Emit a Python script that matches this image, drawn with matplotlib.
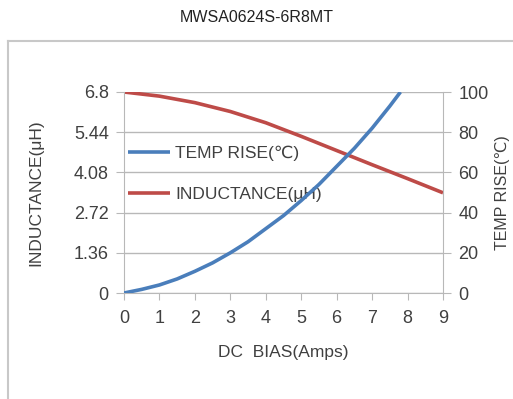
import matplotlib.pyplot as plt

plt.rcParams['font.family'] = ['Liberation Sans', 'DejaVu Sans']

# values
bias_temp = [0, 0.5, 1, 1.5, 2, 2.5, 3, 3.5, 4, 4.5, 5, 5.5, 6, 6.5, 7, 7.5, 7.8]
temp_rise = [0, 1.8, 4, 7, 10.8, 15, 20, 25.5, 32, 38.5, 46, 54, 63, 72, 82, 93, 100]
bias_ind = [0, 1, 2, 3, 4, 5, 6, 7, 8, 9]
inductance = [6.8, 6.66, 6.44, 6.14, 5.76, 5.3, 4.82, 4.34, 3.87, 3.39]
left_ticks = [0, 1.36, 2.72, 4.08, 5.44, 6.8]
right_ticks = [0, 20, 40, 60, 80, 100]
x_ticks = list(range(10))

blue = '#4a7ebb'
red = '#be4b48'
grid_col = '#b8b8b8'
txt_col = '#404040'

fig = plt.figure(figsize=(5.13, 3.99), dpi=100)

# outer frame (chart border)
fig.add_artist(plt.Line2D([8/513, 8/513], [0, 1 - 41/399], transform=fig.transFigure,
                          color='#c8c8c8', lw=1.5))
fig.add_artist(plt.Line2D([8/513, 1], [1 - 41/399, 1 - 41/399], transform=fig.transFigure,
                          color='#c8c8c8', lw=1.5))

fig.text(0.5, 1 - 18/399, 'MWSA0624S-6R8MT', ha='center', va='center', fontsize=11.5, color='#222222')

ax = fig.add_axes([124/513, 1 - 293/399, 319/513, 201/399])
ax2 = ax.twinx()

l1, = ax2.plot(bias_temp, temp_rise, color=blue, lw=2.6, solid_capstyle='butt')
l2, = ax.plot(bias_ind, inductance, color=red, lw=2.6, solid_capstyle='butt')

ax.set_xlim(0, 9)
ax.set_ylim(0, 6.8)
ax2.set_ylim(0, 100)
ax.set_xticks(x_ticks)
ax.set_yticks(left_ticks)
ax.set_yticklabels(['0', '1.36', '2.72', '4.08', '5.44', '6.8'])
ax2.set_yticks(right_ticks)

ax.grid(axis='y', color=grid_col, lw=1)
for a in (ax, ax2):
    for s in a.spines.values():
        s.set_visible(False)
ax.spines['left'].set_visible(True)
ax.spines['left'].set_color(grid_col)
ax2.spines['right'].set_visible(True)
ax2.spines['right'].set_color(grid_col)
ax.spines['bottom'].set_visible(True)
ax.spines['bottom'].set_color(grid_col)

ax.tick_params(axis='y', length=6, color=grid_col, labelsize=13, labelcolor=txt_col, pad=5)
ax.tick_params(axis='x', length=5, color=grid_col, labelsize=13, labelcolor=txt_col, pad=7)
ax2.tick_params(axis='y', length=6, color=grid_col, labelsize=13, labelcolor=txt_col, pad=5)

ax.set_xlabel('DC  BIAS(Amps)', fontsize=12.5, color=txt_col, labelpad=13)
ax.set_ylabel('INDUCTANCE(μH)', fontsize=12.5, color=txt_col, labelpad=22)
ax2.set_ylabel('TEMP RISE(℃)', fontsize=11.5, color=txt_col, labelpad=5)

ax.legend([l1, l2], ['TEMP RISE(℃)', 'INDUCTANCE(μH)'], loc='upper left',
          bbox_to_anchor=(-0.035, 0.81), frameon=False, fontsize=12.5, handlelength=2.4,
          labelspacing=1.5, handletextpad=0.3, labelcolor=txt_col)

fig.savefig('out.png', dpi=100)
